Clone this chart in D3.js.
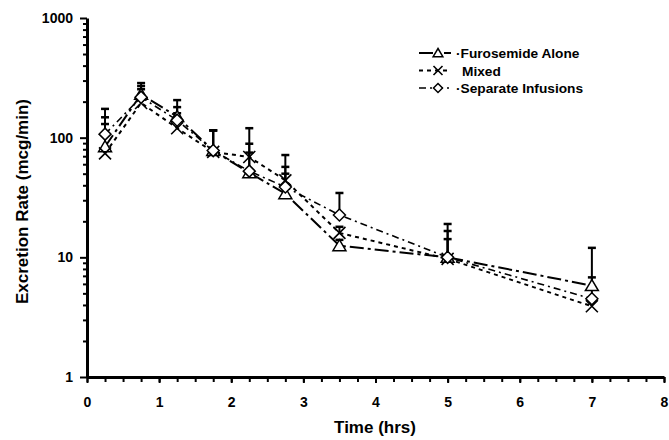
<!DOCTYPE html>
<html>
<head>
<meta charset="utf-8">
<script src="https://cdn.jsdelivr.net/npm/d3@7"></script>
<style>
  body { margin: 0; background: #fff; }
  text { font-family: "Liberation Sans", Arial, sans-serif; font-weight: bold; fill: #000; }
</style>
</head>
<body>
<svg id="chart" width="669" height="440"></svg>
<script>
const times = [0.25, 0.75, 1.25, 1.75, 2.25, 2.75, 3.5, 5, 7];

const furosemide = [84, 230, 150, 78, 51, 34, 12.5, 10, 5.8];
const furosemideUpper = [148, 270, 180, 115, 89, 57, 14, 16.6, 6.8];

const mixed = [74, 195, 120, 76, 69, 44, 16, 9.7, 3.9];
const mixedUpper = [130, 254, 160, 115, 120, 71.6, 18, 14.2, 4.5];

const separate = [107, 218, 140, 78, 52.5, 38.7, 22.6, 10, 4.5];
const separateUpper = [174, 286, 206, 115, 75, 50, 34.5, 19, 12];

const xTicks = [0, 1, 2, 3, 4, 5, 6, 7, 8];
const yTicks = [1, 10, 100, 1000];

const series = [
  { name: 'Furosemide Alone', values: furosemide, upper: furosemideUpper, marker: 'triangle', dash: '14,4,3,4', width: 2 },
  { name: 'Mixed', values: mixed, upper: mixedUpper, marker: 'cross', dash: '4,4', width: 2 },
  { name: 'Separate Infusions', values: separate, upper: separateUpper, marker: 'diamond', dash: '7,4,2,4', width: 1.6 },
];

const svg = d3.select('#chart');

const x = d3.scaleLinear().domain([0, 8]).range([87, 664]);
const y = d3.scaleLog().domain([1, 1000]).range([377, 18]);

const tickFont = (g) => g.selectAll('text')
  .style('font-size', '14px')
  .style('font-family', '"Liberation Sans", Arial, sans-serif')
  .style('font-weight', 'bold');

// axes
const xAxis = svg.append('g').attr('transform', `translate(0,${y(1)})`);
xAxis.append('g')
  .call(d3.axisBottom(x).tickValues(d3.range(0, 8.01, 0.25)).tickFormat('').tickSize(5).tickSizeOuter(0))
  .call((g) => g.select('.domain').remove())
  .call((g) => g.selectAll('line').attr('stroke-width', 2));
xAxis.append('g')
  .call(d3.axisBottom(x).tickValues(xTicks).tickFormat(d3.format('d')).tickSize(6).tickSizeOuter(0).tickPadding(14))
  .call((g) => g.select('.domain').attr('stroke-width', 3))
  .call((g) => g.selectAll('line').attr('stroke-width', 2))
  .call(tickFont);

const minorY = [];
for (let d = 1; d < 1000; d *= 10) {
  for (let k = 2; k <= 9; k++) minorY.push(d * k);
}

const yAxis = svg.append('g').attr('transform', `translate(${x(0)},0)`);
yAxis.append('g')
  .call(d3.axisLeft(y).tickValues(minorY).tickFormat('').tickSize(4).tickSizeOuter(0))
  .call((g) => g.select('.domain').remove())
  .call((g) => g.selectAll('line').attr('stroke-width', 2));
yAxis.append('g')
  .call(d3.axisLeft(y).tickValues(yTicks).tickFormat(d3.format('d')).tickSize(7).tickSizeOuter(0).tickPadding(7))
  .call((g) => g.select('.domain').attr('stroke-width', 3))
  .call((g) => g.selectAll('line').attr('stroke-width', 2))
  .call(tickFont);

svg.append('text')
  .attr('x', 375).attr('y', 433)
  .attr('text-anchor', 'middle')
  .style('font-size', '17px')
  .text('Time (hrs)');

svg.append('text')
  .attr('transform', `translate(28,${(y(1) + y(1000)) / 2 + 4}) rotate(-90)`)
  .attr('text-anchor', 'middle')
  .style('font-size', '17px')
  .text('Excretion Rate (mcg/min)');

function drawMarker(g, type, cx, cy, s = 6) {
  if (type === 'triangle') {
    g.append('path')
      .attr('d', `M${cx},${cy - s}L${cx + s * 1.08},${cy + s * 0.83}L${cx - s * 1.08},${cy + s * 0.83}Z`)
      .attr('fill', '#fff').attr('stroke', '#000').attr('stroke-width', 1.5);
  } else if (type === 'diamond') {
    g.append('path')
      .attr('d', `M${cx},${cy - s}L${cx + s},${cy}L${cx},${cy + s}L${cx - s},${cy}Z`)
      .attr('fill', '#fff').attr('stroke', '#000').attr('stroke-width', 1.5);
  } else {
    g.append('path')
      .attr('d', `M${cx - s},${cy - s}L${cx + s},${cy + s}M${cx + s},${cy - s}L${cx - s},${cy + s}`)
      .attr('fill', 'none').attr('stroke', '#000').attr('stroke-width', 1.6);
  }
}

const line = d3.line().x((d) => x(d[0])).y((d) => y(d[1]));

// error bars (upper only)
series.forEach((s) => {
  const g = svg.append('g');
  times.forEach((t, i) => {
    g.append('line')
      .attr('x1', x(t)).attr('x2', x(t))
      .attr('y1', y(s.values[i])).attr('y2', y(s.upper[i]))
      .attr('stroke', '#000').attr('stroke-width', 2);
    g.append('line')
      .attr('x1', x(t) - 4).attr('x2', x(t) + 4)
      .attr('y1', y(s.upper[i])).attr('y2', y(s.upper[i]))
      .attr('stroke', '#000').attr('stroke-width', 2.5);
  });
});

// lines and markers
series.forEach((s) => {
  const pts = times.map((t, i) => [t, s.values[i]]);
  svg.append('path')
    .datum(pts)
    .attr('d', line)
    .attr('fill', 'none')
    .attr('stroke', '#000')
    .attr('stroke-width', s.width)
    .attr('stroke-dasharray', s.dash);
});
series.forEach((s) => {
  const g = svg.append('g');
  times.forEach((t, i) => drawMarker(g, s.marker, x(t), y(s.values[i])));
});

// legend
const legend = svg.append('g');
series.forEach((s, i) => {
  const ly = 53 + i * 17.5;
  legend.append('line')
    .attr('x1', 419).attr('x2', 451)
    .attr('y1', ly).attr('y2', ly)
    .attr('stroke', '#000')
    .attr('stroke-width', s.width)
    .attr('stroke-dasharray', s.dash);
  drawMarker(legend, s.marker, 438, ly, 4.5);
  legend.append('text')
    .attr('x', s.name === 'Mixed' ? 462 : 456)
    .attr('y', ly + 5)
    .style('font-size', '13.7px')
    .text(s.name === 'Mixed' ? s.name : '\u00b7' + s.name);
});
</script>
</body>
</html>
